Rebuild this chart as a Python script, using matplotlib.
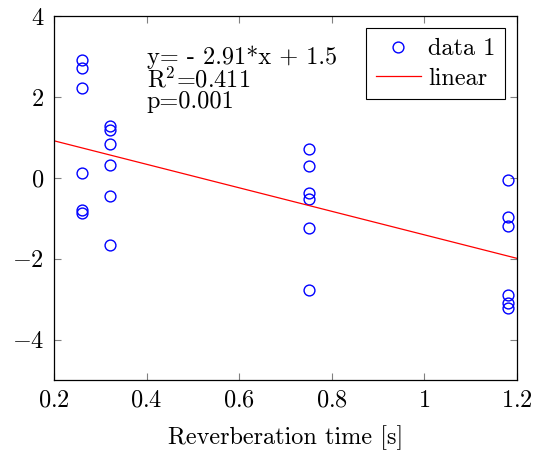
import numpy as np
import matplotlib
matplotlib.use('Agg')
import matplotlib.pyplot as plt
from matplotlib.ticker import FuncFormatter

plt.rcParams['font.family'] = 'serif'
plt.rcParams['font.serif'] = ['cmr10']
plt.rcParams['mathtext.fontset'] = 'cm'
plt.rcParams['axes.formatter.use_mathtext'] = True

# reverberation time groups and measured values
rt = [0.26] * 6 + [0.32] * 6 + [0.75] * 6 + [1.18] * 6
vals = [2.93, 2.73, 2.22, 0.12, -0.79, -0.86,
        1.28, 1.18, 0.84, 0.32, -0.44, -1.65,
        0.71, 0.30, -0.38, -0.52, -1.24, -2.78,
        -0.05, -0.97, -1.20, -2.91, -3.10, -3.23]

# linear fit as reported
slope = -2.91
intercept = 1.5
r2 = 0.411
pval = 0.001

fs = 17.5

fig = plt.figure(figsize=(5.46, 4.65), dpi=100)
ax = fig.add_axes([0.099, 0.183, 0.848, 0.782])

ax.plot(rt, vals, 'o', mfc='none', mec='blue', ms=7.8, mew=1.0, label='data 1')
xl = np.array([0.2, 1.2])
ax.plot(xl, slope * xl + intercept, color='red', lw=0.9, label='linear')

ax.text(0.4, 3.28, 'y= - {:.2f}*x + {:.1f}\nR$^2$={:.3f}\np={:.3f}'.format(abs(slope), intercept, r2, pval),
        fontsize=fs, va='top', ha='left', linespacing=0.92)

ax.set_xlim(0.2, 1.2)
ax.set_ylim(-5, 4)
ax.set_xticks([0.2, 0.4, 0.6, 0.8, 1.0, 1.2])
ax.set_yticks([-4, -2, 0, 2, 4])
fmt = FuncFormatter(lambda v, p: '${:g}$'.format(v))
ax.xaxis.set_major_formatter(fmt)
ax.yaxis.set_major_formatter(fmt)
ax.tick_params(direction='in', top=True, right=True, length=5, width=0.8,
               color='#808080', labelsize=fs, pad=7)
for s in ax.spines.values():
    s.set_linewidth(0.9)
ax.set_xlabel('Reverberation time [s]', fontsize=fs, labelpad=10)

leg = ax.legend(loc='upper right', fontsize=fs, fancybox=False, framealpha=1,
                edgecolor='black', borderaxespad=0.5, handlelength=1.85,
                handletextpad=0.3, borderpad=0.4, labelspacing=0.3)
leg.get_frame().set_linewidth(0.8)

fig.savefig('out.png', dpi=100)
